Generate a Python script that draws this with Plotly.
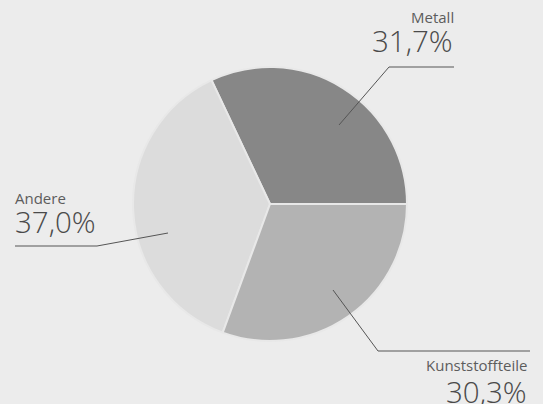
import plotly.graph_objects as go

categories = ["Metall", "Andere", "Kunststoffteile"]
values = [31.7, 37.0, 30.3]
value_labels = ["31,7%", "37,0%", "30,3%"]
colors = ["#878787", "#dcdcdc", "#b3b3b3"]

W, H = 543, 404

def px(x):
    return x / W

def py(y):
    return 1 - y / H

# first slice starts at 3 o'clock and runs counterclockwise
first_angle = 360 * values[0] / sum(values)

fig = go.Figure()
fig.add_trace(go.Pie(
    labels=categories,
    values=values,
    sort=False,
    direction="counterclockwise",
    rotation=90 - first_angle,
    marker=dict(colors=colors, line=dict(color="#e8e8e8", width=2)),
    textinfo="none",
    hoverinfo="label+percent",
    showlegend=False,
    domain=dict(x=[px(133), px(407)], y=[py(341), py(67)]),
))

# leader lines (pixel-derived layout positions)
leaders = [
    [(339, 125), (389, 67), (454, 67)],
    [(168, 233), (97, 246), (15, 246)],
    [(333, 290), (378, 351), (530, 351)],
]
for pts in leaders:
    path = "M " + " L ".join(f"{px(x)},{py(y)}" for x, y in pts)
    fig.add_shape(type="path", path=path, xref="paper", yref="paper",
                  line=dict(color="#555555", width=1))

font_fam = "Open Sans, Lato, DejaVu Sans, sans-serif"
# label placements: (name_x, name_y, value_x, value_y, anchor)
places = [
    (456, 17, 455, 41, "right"),
    (13, 198, 13, 221, "left"),
    (529, 365, 529, 391, "right"),
]
for i, (nx, ny, vx, vy, anc) in enumerate(places):
    fig.add_annotation(x=px(nx), y=py(ny), xref="paper", yref="paper",
                       text=categories[i], showarrow=False,
                       xanchor=anc, yanchor="middle",
                       font=dict(family=font_fam, size=15, color="#5c5c5c"))
    fig.add_annotation(x=px(vx), y=py(vy), xref="paper", yref="paper",
                       text=value_labels[i], showarrow=False,
                       xanchor=anc, yanchor="middle",
                       font=dict(family=font_fam, size=29.5, color="#4a4a4a", weight=300))

fig.update_layout(
    width=W, height=H,
    margin=dict(l=0, r=0, t=0, b=0),
    paper_bgcolor="#ececec",
    plot_bgcolor="#ececec",
)
fig.write_html("out.html",
               config={"displayModeBar": False},
               post_script="document.body.style.margin='0';document.body.style.background='#ececec';")
